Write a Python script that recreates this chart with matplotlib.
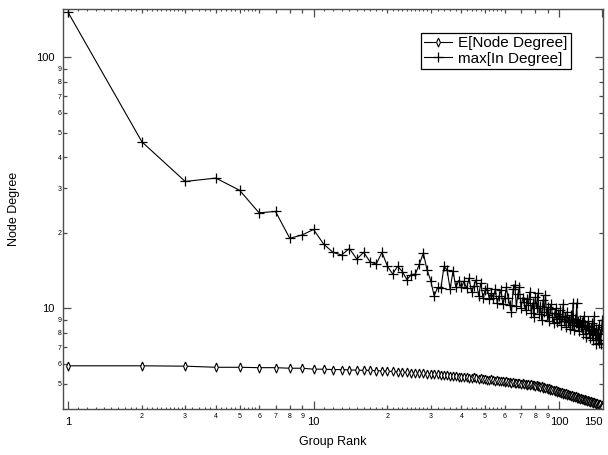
import numpy as np
import matplotlib
matplotlib.use('Agg')
import matplotlib.pyplot as plt
from matplotlib.ticker import FixedLocator, FixedFormatter

plt.rcParams['font.family'] = ['Liberation Sans', 'DejaVu Sans']

# group rank 1..150
rank = np.arange(1, 151)

# E[Node Degree] per rank
mean_deg = [5.90, 5.90, 5.88, 5.82, 5.82, 5.80, 5.80, 5.77, 5.77,
            5.72, 5.72, 5.70, 5.70, 5.68, 5.67, 5.66, 5.66, 5.64, 5.63,
            5.62, 5.60, 5.58, 5.56, 5.55, 5.54, 5.52, 5.52, 5.50, 5.49,
            5.48, 5.46, 5.47, 5.43, 5.42, 5.40, 5.38, 5.36, 5.35, 5.33,
            5.32, 5.30, 5.32, 5.29, 5.28, 5.30, 5.27, 5.25, 5.26, 5.22,
            5.24, 5.20, 5.18, 5.21, 5.17, 5.15, 5.18, 5.13, 5.12, 5.15,
            5.10, 5.12, 5.07, 5.09, 5.05, 5.08, 5.03, 5.06, 5.02, 5.04,
            5.00, 5.03, 4.98, 5.01, 4.97, 4.99, 4.95, 4.98, 4.93, 4.96,
            4.92, 4.94, 4.89, 4.92, 4.86, 4.89, 4.83, 4.86, 4.80, 4.83,
            4.77, 4.80, 4.74, 4.77, 4.71, 4.74, 4.68, 4.71, 4.66, 4.68,
            4.63, 4.66, 4.60, 4.63, 4.57, 4.60, 4.55, 4.58, 4.52, 4.55,
            4.50, 4.53, 4.47, 4.50, 4.45, 4.48, 4.42, 4.46, 4.40, 4.43,
            4.38, 4.41, 4.36, 4.39, 4.34, 4.37, 4.32, 4.35, 4.30, 4.33,
            4.28, 4.31, 4.26, 4.29, 4.24, 4.27, 4.22, 4.25, 4.20, 4.23,
            4.18, 4.21, 4.15, 4.19, 4.12, 4.16, 4.10, 4.14, 4.02, 4.12,
            4.05]

# max[In Degree] per rank
max_in = [151, 46, 32, 33, 29.5, 24, 24.3, 19, 19.6, 20.6,
          18.0, 16.7, 16.3, 17.3, 15.7, 16.7, 15.3, 15.0, 16.7, 14.7,
          13.7, 14.7, 14.0, 13.0, 13.6, 13.7, 15.0, 16.6, 14.2, 12.9,
          11.2, 12.1, 12.0, 14.7, 14.2, 11.9, 14.1, 12.1, 12.9, 12.1,
          12.8, 12.0, 13.2, 11.6, 12.3, 13.0, 11.2, 12.6, 11.0, 11.8,
          12.0, 10.9, 11.5, 11.0, 11.9, 10.5, 11.2, 11.8, 10.4, 11.0,
          12.1, 11.0, 10.3, 9.7, 11.9, 12.4, 10.2, 11.4, 12.1, 10.0,
          11.0, 10.6, 9.8, 10.9, 10.3, 11.6, 9.6, 10.5, 9.2, 11.1,
          10.0, 11.5, 9.5, 10.2, 9.0, 10.8, 9.7, 11.3, 9.4, 10.1,
          8.9, 9.9, 10.4, 9.2, 8.7, 9.6, 10.0, 8.8, 9.5, 9.1,
          9.8, 8.6, 9.3, 10.4, 8.9, 9.2, 8.4, 9.7, 8.8, 9.0,
          8.3, 9.4, 8.6, 10.5, 8.2, 9.1, 8.7, 10.5, 8.5, 8.9,
          8.1, 9.0, 8.4, 8.8, 7.9, 9.3, 8.3, 8.6, 7.7, 8.5,
          8.9, 8.0, 8.4, 7.6, 8.2, 8.7, 7.5, 8.1, 9.3, 7.8,
          8.3, 7.2, 8.0, 7.5, 8.6, 7.3, 7.9, 7.2, 8.4, 9.0]

x_major = [1, 10, 100, 150]
x_major_labels = ['1', '10', '100', '150']
x_minor = [2, 3, 4, 5, 6, 7, 8, 9, 20, 30, 40, 50, 60, 70, 80, 90]
x_minor_labels = ['2', '3', '4', '5', '6', '7', '8', '9'] * 2
x_tiny = ([1 + 0.1 * i for i in range(1, 10)] + [2 + 0.1 * i for i in range(1, 10)]
          + [3.2, 3.4, 3.6, 3.8, 4.2, 4.4, 4.6, 4.8, 5.2, 5.4, 5.6, 5.8])
x_tiny = x_tiny + [v * 10 for v in x_tiny]

y_major = [10, 100]
y_minor = [5, 6, 7, 8, 9, 20, 30, 40, 50, 60, 70, 80, 90]
y_minor_labels = ['5', '6', '7', '8', '9', '2', '3', '4', '5', '6', '7', '8', '9']

# narrow open diamond like the original plot symbol
thin_diamond = [(0, 1), (0.42, 0), (0, -1), (-0.42, 0), (0, 1)]

fig = plt.figure(figsize=(6.08, 4.55), dpi=100)
ax = fig.add_axes([63 / 608, 46 / 455, 540 / 608, 400 / 455])

ax.plot(rank, mean_deg, color='black', lw=0.8, marker=thin_diamond, ms=6.5,
        mfc='white', mec='black', mew=0.8, label='E[Node Degree]')
ax.plot(rank, max_in, color='black', lw=0.8, marker='+', ms=7.5, mew=0.9,
        label='max[In Degree]')

ax.set_xscale('log')
ax.set_yscale('log')
ax.set_xlim(0.954, 151)
ax.set_ylim(3.97, 155.6)

ax.xaxis.set_major_locator(FixedLocator(x_major))
ax.xaxis.set_major_formatter(FixedFormatter(x_major_labels))
ax.xaxis.set_minor_locator(FixedLocator(x_minor))
ax.xaxis.set_minor_formatter(FixedFormatter(x_minor_labels))
ax.yaxis.set_major_locator(FixedLocator(y_major))
ax.yaxis.set_major_formatter(FixedFormatter(['10', '100']))
ax.yaxis.set_minor_locator(FixedLocator(y_minor))
ax.yaxis.set_minor_formatter(FixedFormatter(y_minor_labels))

axcol = '0.3'
for s in ax.spines.values():
    s.set_color(axcol)
    s.set_linewidth(1.0)

ax.tick_params(which='both', direction='in', top=True, right=True, color=axcol, width=0.9)
ax.tick_params(which='major', length=6, labelsize=8, pad=6)
ax.tick_params(axis='x', which='minor', length=3, labelsize=5, pad=3)
ax.tick_params(axis='y', which='minor', length=3, labelsize=5, pad=1)

# the smallest, unlabelled x ticks
ax.plot(x_tiny, np.zeros(len(x_tiny)), ls='none', marker=2, ms=1.6, mew=0.8,
        color=axcol, transform=ax.get_xaxis_transform(), clip_on=False)
ax.plot(x_tiny, np.ones(len(x_tiny)), ls='none', marker=3, ms=1.6, mew=0.8,
        color=axcol, transform=ax.get_xaxis_transform(), clip_on=False)

ax.set_xlabel('Group Rank', fontsize=9, labelpad=6)
ax.set_ylabel('Node Degree', fontsize=9, labelpad=12)

leg = ax.legend(loc='upper left', bbox_to_anchor=(0.663, 0.94), fontsize=11,
                frameon=True, fancybox=False, edgecolor='black', framealpha=1,
                borderaxespad=0, borderpad=0.2, handlelength=1.85,
                handletextpad=0.4, labelspacing=0.1)
leg.get_frame().set_linewidth(0.9)

# keep the "150" label inside the figure
fig.canvas.draw()
for t in ax.xaxis.get_major_ticks():
    if t.label1.get_text() == '150':
        t.label1.set_horizontalalignment('right')
        t.label1.set_x(t.label1.get_position()[0])

fig.savefig('out.png', dpi=100)
